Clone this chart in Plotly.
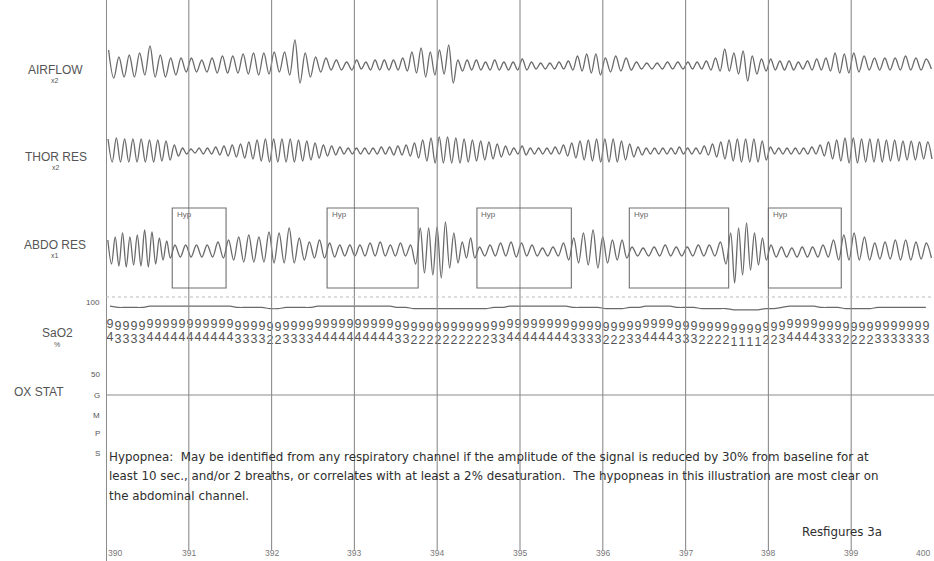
import plotly.graph_objects as go

# ---------------- data ----------------
tick_values = [390, 391, 392, 393, 394, 395, 396, 397, 398, 399, 400]
tick_labels = ["390", "391", "392", "393", "394", "395", "396", "397", "398", "399", "400"]

# one list per second (390-391, ..., 399-400): alternating peak / trough amplitudes
airflow_segments = [
    [16, -12, 9, -11, 11, -11, 13, -9, 20, -11, 11, -11, 8, -9, 8, -6],
    [8, -6, 6, -6, 8, -7, 10, -7, 10, -7, 12, -8, 13, -9, 13, -8],
    [14, -6, 14, -9, 26, -17, 13, -11, 9, -6, 8, -4, 6, -4, 4, -4],
    [6, -3, 4, -4, 6, -4, 6, -4, 6, -4, 8, -5, 14, -7, 18, -11, 14, -9],
    [16, -8, 21, -17, 6, -5, 6, -4, 6, -4, 4, -4, 6, -4, 4, -4, 4, -4],
    [7, -4, 4, -3, 3, -3, 3, -3, 4, -3, 5, -4, 10, -5, 12, -7, 12, -9],
    [8, -6, 10, -5, 8, -4, 4, -3, 3, -3, 3, -3, 4, -3, 4, -3],
    [4, -3, 4, -3, 5, -4, 8, -5, 17, -5, 13, -8, 15, -15, 10, -8, 7, -5],
    [7, -4, 5, -4, 5, -4, 4, -3, 5, -4, 7, -4, 8, -5, 13, -7, 12, -7],
    [13, -6, 10, -4, 8, -4, 8, -4, 8, -4, 10, -4, 8, -4, 7, -3],
]

thor_segments = [
    [12, -11, 13, -11, 12, -11, 12, -11, 12, -11, 11, -11, 11, -10, 10, -9, 6, -5, 3, -3],
    [2, -2, 3, -3, 3, -3, 4, -4, 5, -5, 6, -6, 7, -7, 9, -8, 11, -10, 12, -11],
    [12, -11, 12, -11, 12, -11, 11, -10, 10, -9, 8, -7, 6, -5, 5, -4, 4, -3, 3, -3],
    [3, -3, 3, -3, 3, -3, 4, -3, 4, -4, 5, -4, 6, -5, 8, -7, 11, -10, 13, -12],
    [14, -12, 14, -12, 13, -12, 12, -11, 11, -10, 10, -9, 9, -8, 7, -6, 5, -4, 3, -3],
    [5, -4, 3, -3, 3, -3, 3, -3, 4, -3, 6, -5, 8, -7, 10, -9, 11, -10, 12, -11],
    [12, -11, 12, -11, 10, -9, 7, -6, 4, -4, 3, -3, 3, -3, 3, -3, 3, -3, 4, -3],
    [3, -3, 3, -3, 5, -4, 7, -6, 9, -8, 11, -10, 12, -11, 12, -11, 12, -11, 10, -9],
    [4, -3, 3, -3, 3, -3, 3, -3, 3, -3, 4, -3, 6, -5, 9, -8, 11, -10, 13, -12],
    [13, -12, 12, -11, 12, -11, 12, -11, 11, -10, 11, -10, 10, -9, 10, -9, 9, -8, 9, -8],
]
second_bounds = [390, 391, 392, 393, 394, 395, 396, 397, 398, 399, 400]

# abdominal channel: segments split at hypopnea box edges
abdo_bounds = [390.0, 390.80, 391.45, 392.67, 393.77, 394.48, 395.62, 396.32, 397.52, 398.0, 398.88, 400.0]
abdo_segments = [
    [10, -14, 13, -16, 17, -17, 13, -15, 15, -16, 20, -17, 18, -14, 12, -10, 9, -8],
    [5, -7, 5, -7, 5, -7, 5, -7, 8, -8],
    [10, -10, 13, -12, 15, -12, 13, -12, 18, -13, 17, -13, 22, -13, 12, -10, 8, -8, 10, -8],
    [7, -7, 5, -6, 5, -6, 5, -6, 7, -6, 8, -6, 5, -6, 7, -6, 5, -14],
    [22, -23, 22, -25, 23, -28, 28, -18, 17, -13, 8, -8, 12, -8],
    [3, -6, 5, -6, 7, -6, 8, -7, 7, -6, 5, -6, 2, -6, 3, -6, 7, -10],
    [12, -13, 17, -15, 20, -18, 13, -13, 10, -10, 10, -8],
    [3, -6, 2, -6, 3, -6, 5, -6, 3, -6, 3, -6, 5, -6, 5, -6, 8, -14],
    [17, -33, 22, -25, 27, -20, 17, -15, 12, -10],
    [5, -7, 3, -7, 2, -7, 3, -7, 3, -7, 5, -7, 10, -10],
    [15, -10, 17, -10, 13, -10, 7, -9, 8, -9, 10, -10, 10, -10, 8, -9, 7, -8],
]

hyp_starts = [390.80, 392.67, 394.48, 396.32, 398.00]
hyp_ends = [391.45, 393.77, 395.62, 397.52, 398.88]

sao2_values = (
    [94] + [93] * 4 + [94] * 11 + [93] * 4 + [92] * 2 + [93] * 4 + [94] * 10 + [93] * 2
    + [92] * 10 + [93] * 2 + [94] * 8 + [93] * 4 + [92] * 3 + [93] * 2 + [94] * 4 + [93] * 3
    + [92] * 4 + [91] * 4 + [92] * 2 + [93] + [94] * 4 + [93] * 3 + [92] * 4 + [93] * 7
)

channel_labels = ["AIRFLOW", "THOR RES", "ABDO RES"]
channel_gains = ["x2", "x2", "x1"]

note_lines = [
    "Hypopnea:  May be identified from any respiratory channel if the amplitude of the signal is reduced by 30% from baseline for at",
    "least 10 sec., and/or 2 breaths, or correlates with at least a 2% desaturation.  The hypopneas in this illustration are most clear on",
    "the abdominal channel.",
]
figure_caption = "Resfigures 3a"

# ---------------- layout helpers ----------------
W, H = 934, 561
L = 106
PW = W - L
TRACE = "#6a6a6a"
GRID = "#8c8c8c"
LABEL = "#555555"
SANS = "Liberation Sans, Arial, sans-serif"
NOTE_FONT = "DejaVu Sans, sans-serif"


def px(x):
    return (x - L) / PW


def spread(bounds, segments):
    xs, ys = [], []
    for i, seg in enumerate(segments):
        a, b = bounds[i], bounds[i + 1]
        n = len(seg)
        for k, v in enumerate(seg):
            xs.append(a + (k + 0.5) * (b - a) / n)
            ys.append(v)
    return xs, ys


fig = go.Figure()

channels = [
    (second_bounds, airflow_segments, 66),
    (second_bounds, thor_segments, 151),
    (abdo_bounds, abdo_segments, 250),
]
for bounds, segs, base in channels:
    xs, ys = spread(bounds, segs)
    fig.add_trace(go.Scatter(
        x=xs, y=[base - v for v in ys], mode="lines",
        line=dict(color=TRACE, width=1.3, shape="spline", smoothing=1.0),
        hoverinfo="skip", showlegend=False))

# SaO2 trace and printed values
n = len(sao2_values)
sx = [390 + (i + 0.5) * 9.95 / n for i in range(n)]
fig.add_trace(go.Scatter(
    x=sx, y=[299 + (100 - v) * 1.2 for v in sao2_values], mode="lines",
    line=dict(color=TRACE, width=1.2, shape="spline"), hoverinfo="skip", showlegend=False))
fig.add_trace(go.Scatter(
    x=sx, y=[325 + (94 - v) * 1.6 for v in sao2_values], mode="text",
    text=[str(v)[0] for v in sao2_values],
    textfont=dict(family=SANS, size=12.5, color=LABEL), hoverinfo="skip", showlegend=False))
fig.add_trace(go.Scatter(
    x=sx, y=[338 + (94 - v) * 1.6 for v in sao2_values], mode="text",
    text=[str(v)[1] for v in sao2_values],
    textfont=dict(family=SANS, size=12.5, color=LABEL), hoverinfo="skip", showlegend=False))

shapes = []
# left border line
shapes.append(dict(type="line", xref="x", yref="y", x0=390, x1=390, y0=0, y1=561,
                   line=dict(color=GRID, width=2)))
for t in tick_values[1:-1]:
    shapes.append(dict(type="line", xref="x", yref="y", x0=t, x1=t, y0=0, y1=550,
                       line=dict(color=GRID, width=1.1)))
# 100% reference (dotted) and OX STAT baseline
shapes.append(dict(type="line", xref="paper", yref="y", x0=0, x1=1, y0=297, y1=297,
                   line=dict(color="#bbbbbb", width=1, dash="dot")))
shapes.append(dict(type="line", xref="paper", yref="y", x0=0, x1=1, y0=395, y1=395,
                   line=dict(color=GRID, width=1.1)))
# hypopnea boxes
for a, b in zip(hyp_starts, hyp_ends):
    shapes.append(dict(type="rect", xref="x", yref="y", x0=a, x1=b, y0=208, y1=288,
                       line=dict(color="#707070", width=1.1), fillcolor="rgba(0,0,0,0)"))

ann = []
for a in hyp_starts:
    ann.append(dict(x=a + 0.03, y=214, xref="x", yref="y", text="Hyp", showarrow=False,
                    xanchor="left", yanchor="middle", font=dict(family=SANS, size=8, color="#666666")))

label_pos = [(55, 70), (55.5, 157), (55, 245)]
for (lx, ly), lab, gain in zip(label_pos, channel_labels, channel_gains):
    ann.append(dict(x=px(lx), y=ly, xref="paper", yref="y", text=lab, showarrow=False,
                    xanchor="center", yanchor="middle", font=dict(family=SANS, size=12, color=LABEL)))
    ann.append(dict(x=px(lx), y=ly + 10, xref="paper", yref="y", text=gain, showarrow=False,
                    xanchor="center", yanchor="middle", font=dict(family=SANS, size=7, color=LABEL)))

ann.append(dict(x=px(57), y=333, xref="paper", yref="y", text="SaO2", showarrow=False,
                xanchor="center", yanchor="middle", font=dict(family=SANS, size=12, color=LABEL)))
ann.append(dict(x=px(57), y=344, xref="paper", yref="y", text="%", showarrow=False,
                xanchor="center", yanchor="middle", font=dict(family=SANS, size=7, color=LABEL)))
ann.append(dict(x=px(39), y=392, xref="paper", yref="y", text="OX STAT", showarrow=False,
                xanchor="center", yanchor="middle", font=dict(family=SANS, size=12, color=LABEL)))

for txt, yy in [("100", 302), ("50", 374), ("G", 395), ("M", 415), ("P", 433), ("S", 453)]:
    ann.append(dict(x=px(102), y=yy, xref="paper", yref="y", text=txt, showarrow=False,
                    xanchor="right", yanchor="middle", font=dict(family=SANS, size=8, color=LABEL)))

for txt, yy in zip(note_lines, [457, 476, 496]):
    ann.append(dict(x=px(107), y=yy, xref="paper", yref="y", text=txt, showarrow=False,
                    xanchor="left", yanchor="middle",
                    font=dict(family=NOTE_FONT, size=11.85, color="#2e2e2e")))
ann.append(dict(x=px(800), y=532, xref="paper", yref="y", text=figure_caption, showarrow=False,
                xanchor="left", yanchor="middle",
                font=dict(family=NOTE_FONT, size=11.8, color="#2e2e2e")))

for t, lab in zip(tick_values, tick_labels):
    if t == 390:
        ann.append(dict(x=t, y=553, xref="x", yref="y", text=lab, showarrow=False,
                        xanchor="left", yanchor="middle", font=dict(family=SANS, size=8.5, color="#777777")))
    elif t == 400:
        ann.append(dict(x=px(923), y=553, xref="paper", yref="y", text=lab, showarrow=False,
                        xanchor="center", yanchor="middle", font=dict(family=SANS, size=8.5, color="#777777")))
    else:
        ann.append(dict(x=t, y=553, xref="x", yref="y", text=lab, showarrow=False,
                        xanchor="center", yanchor="middle", font=dict(family=SANS, size=8.5, color="#777777")))

fig.update_layout(
    width=W, height=H, autosize=False,
    margin=dict(l=L, r=0, t=0, b=0, pad=0),
    paper_bgcolor="white", plot_bgcolor="white",
    xaxis=dict(range=[390, 400], visible=False, fixedrange=True),
    yaxis=dict(range=[H, 0], visible=False, fixedrange=True),
    shapes=shapes, annotations=ann, showlegend=False,
)

fig.write_html(
    "out.html",
    config={"displayModeBar": False, "responsive": False},
    post_script="document.body.style.margin='0px';document.body.style.overflow='hidden';",
)
